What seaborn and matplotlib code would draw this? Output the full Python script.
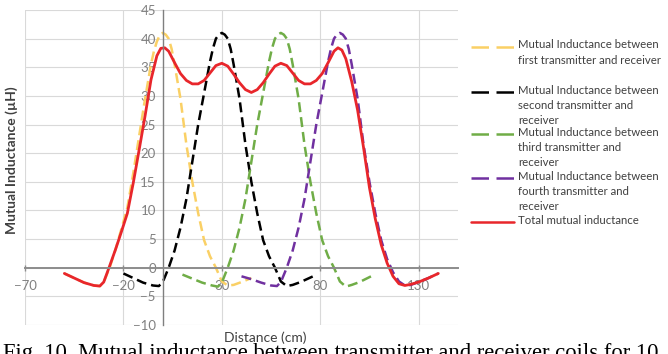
import matplotlib
matplotlib.use("Agg")
import matplotlib.pyplot as plt
import seaborn as sns
from matplotlib.lines import Line2D

# Data (distance in cm, inductance in uH)
x_first = [-50, -45, -40, -35, -32, -30, -27, -24, -21, -18, -15, -12, -9, -6, -4.5, -3, -1.5, 0,
           1.5, 3, 4.5, 6, 9, 12, 15, 18, 21, 24, 27, 30, 33, 36, 40, 45]
y_first = [-1.0, -1.8, -2.6, -3.1, -3.2, -2.5, 0.0, 3.2, 6.8, 10.5, 16.5, 23.0, 29.5, 35.5, 37.8, 39.5, 40.6, 41.0,
           40.7, 40.0, 38.2, 35.5, 29.5, 21.5, 15.0, 9.5, 4.8, 2.0, 0.0, -2.4, -3.1, -3.0, -2.5, -1.8]

x_second = [-20, -15, -10, -5, -2, 0, 3, 6, 9, 12, 15, 18, 21, 24, 25.5, 27, 28.5, 30,
            31.5, 33, 34.5, 36, 39, 42, 45, 48, 51, 54, 57, 60, 63, 66, 70, 77]
y_second = [-1.0, -1.8, -2.6, -3.1, -3.2, -2.5, 0.0, 3.0, 7.0, 12.0, 18.5, 25.0, 30.5, 36.0, 38.3, 40.0, 40.7, 41.0,
            40.7, 40.0, 38.2, 35.5, 29.5, 21.5, 15.0, 9.5, 4.8, 2.0, 0.0, -2.4, -3.2, -3.0, -2.5, -1.4]

x_third = [10, 15, 20, 25, 28, 30, 33, 36, 39, 42, 45, 48, 51, 54, 55.5, 57, 58.5, 60,
           61.5, 63, 64.5, 66, 69, 72, 75, 78, 81, 84, 87, 90, 93, 96, 100, 107]
y_third = [-1.2, -1.9, -2.6, -3.1, -3.3, -2.6, 0.0, 3.0, 7.0, 12.0, 18.5, 25.0, 30.5, 36.0, 38.3, 40.0, 40.7, 41.0,
           40.7, 40.0, 38.2, 35.5, 29.5, 21.5, 15.0, 9.5, 4.8, 2.0, 0.0, -2.4, -3.3, -3.0, -2.5, -1.3]

x_fourth = [40, 45, 50, 55, 58, 60, 63, 66, 69, 72, 75, 78, 81, 84, 85.5, 87, 88.5, 90,
            91.5, 93, 94.5, 96, 99, 102, 105, 108, 111, 114, 117, 120, 123, 126, 130, 135, 140]
y_fourth = [-1.5, -2.0, -2.6, -3.1, -3.2, -2.5, 0.0, 3.0, 7.0, 12.0, 18.5, 25.0, 30.5, 36.0, 38.3, 40.0, 40.7, 41.0,
            40.7, 40.0, 38.2, 35.5, 29.5, 21.5, 15.0, 9.5, 4.8, 1.5, -0.8, -2.4, -3.1, -3.0, -2.5, -1.8, -1.0]

x_total = [-50, -45, -40, -35, -32, -30, -27, -24, -21, -18, -15, -12, -9, -6, -3, -1, 1,
           3, 6, 9, 12, 15, 18, 21, 24, 27, 30, 33, 36, 39, 42, 45, 48, 51, 54, 57, 60,
           63, 66, 69, 72, 75, 78, 81, 84, 87, 89, 91, 93, 96, 99, 102, 105, 108, 111,
           114, 117, 120, 123, 126, 130, 135, 140]
y_total = [-1.0, -1.8, -2.6, -3.1, -3.2, -2.5, 0.3, 3.2, 6.3, 9.5, 14.8, 20.6, 26.5, 32.8, 37.0, 38.3, 38.4,
           37.8, 35.8, 33.9, 32.7, 32.1, 32.1, 32.7, 34.0, 35.3, 35.7, 35.2, 33.8, 32.3, 31.1, 30.6, 31.1,
           32.3, 33.8, 35.2, 35.7, 35.3, 34.0, 32.7, 32.1, 32.1, 32.7, 33.9, 35.8, 37.8, 38.4, 38.0, 36.5,
           32.5, 27.5, 21.0, 14.0, 8.5, 4.0, 0.8, -1.5, -2.8, -3.1, -2.9, -2.5, -1.8, -1.0]

x_ticks = [-70, -20, 30, 80, 130]
y_ticks = list(range(-10, 50, 5))

series_labels = [
    "Mutual Inductance between\nfirst transmitter and receiver",
    "Mutual Inductance between\nsecond transmitter and\nreceiver",
    "Mutual Inductance between\nthird transmitter and\nreceiver",
    "Mutual Inductance between\nfourth transmitter and\nreceiver",
    "Total mutual inductance",
]
series_colors = ["#FAD065", "#000000", "#70AD47", "#7030A0", "#E8262B"]

sns.set_theme(style="whitegrid")
plt.rcParams['font.family'] = ['Lato', 'DejaVu Sans']

W, H = 668, 354
fig = plt.figure(figsize=(W / 100, H / 100), dpi=100)
ax = fig.add_axes([25 / W, 1 - 325 / H, 433 / W, 315 / H])

dash = (0, (4, 2))
lw = 1.8
series = [(x_first, y_first), (x_second, y_second), (x_third, y_third), (x_fourth, y_fourth)]
for (xs, ys), c in zip(series, series_colors[:4]):
    sns.lineplot(x=xs, y=ys, ax=ax, color=c, lw=lw, linestyle=dash)
sns.lineplot(x=x_total, y=y_total, ax=ax, color=series_colors[4], lw=2.0)

ax.set_xlim(-70, 150)
ax.set_ylim(-10, 45)
ax.set_xticks(x_ticks)
ax.set_yticks(y_ticks)
ax.grid(True, color="#D9D9D9", lw=0.8)
ax.set_facecolor("white")

for s in ["top", "right"]:
    ax.spines[s].set_visible(False)
ax.spines["left"].set_position(("data", 0))
ax.spines["bottom"].set_position(("data", 0))
ax.spines["left"].set_color("#7F7F7F")
ax.spines["bottom"].set_color("#8C8C8C")
ax.spines["left"].set_linewidth(1.0)
ax.spines["bottom"].set_linewidth(1.4)
ax.tick_params(axis="x", direction="inout", length=4, width=1, color="#8C8C8C",
               pad=7, labelsize=9.5, labelcolor="#808080", bottom=True)
ax.tick_params(axis="y", length=0, pad=5, labelsize=9.5, labelcolor="#808080")
ax.set_xlabel("")
ax.set_ylabel("")

fig.text(12 / W, 1 - 160 / H, "Mutual Inductance (µH)", rotation=90, ha="center", va="center",
         fontsize=10, fontweight="bold", color="#404040")
fig.text(265 / W, 1 - 338 / H, "Distance (cm)", ha="center", va="center",
         fontsize=10, color="#404040")

# legend drawn by hand (Excel style, text spills over next entry)
handle_y = [47, 92, 134, 178, 222]
for i, (lab, c) in enumerate(zip(series_labels, series_colors)):
    py = handle_y[i]
    ls = "-" if i == 4 else (0, (7, 3))
    fig.add_artist(Line2D([471 / W, 514 / W], [1 - py / H, 1 - py / H], color=c, lw=lw,
                          linestyle=ls, transform=fig.transFigure))
    fig.text(518 / W, 1 - (py - 7.5) / H, lab, ha="left", va="top", fontsize=8.2,
             color="#404040", linespacing=1.5)

fig.text(3 / W, 1 - 343 / H, "Fig. 10. Mutual inductance between transmitter and receiver coils for 10",
         ha="left", va="top", fontsize=16.3, family="Liberation Serif", color="black")

fig.savefig("out.png", dpi=100)
